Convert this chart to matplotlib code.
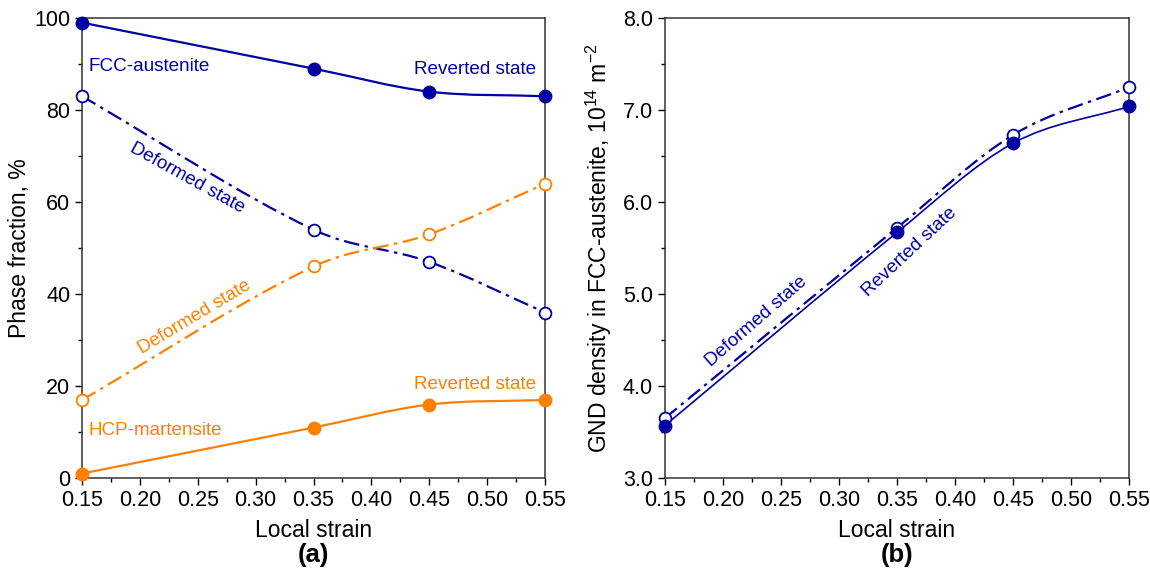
import matplotlib.pyplot as plt
from matplotlib.path import Path
from matplotlib.patches import PathPatch
from matplotlib.ticker import MultipleLocator

plt.rcParams['font.family'] = ['Liberation Sans', 'DejaVu Sans']
plt.rcParams['mathtext.fontset'] = 'custom'
plt.rcParams['mathtext.rm'] = 'Liberation Sans'

strain = [0.15, 0.35, 0.45, 0.55]

# panel (a) phase fractions, %
fcc_reverted = [99, 89, 84, 83]
fcc_deformed = [83, 54, 47, 36]
hcp_deformed = [17, 46, 53, 64]
hcp_reverted = [1, 11, 16, 17]

# panel (b) GND density, 1e14 m^-2
gnd_deformed = [3.65, 5.72, 6.73, 7.25]
gnd_reverted = [3.57, 5.67, 6.64, 7.04]

blue = '#0000a0'
orange = '#ff8000'
dashdot = (0, (7, 2.5, 1.5, 2.5))
fs_ann = 13.6
fs_tick = 15.5
fs_lab = 16.5


def smooth_line(ax, x, y, color, ls, lw=1.5):
    # cubic hermite bezier through the points (slopes from neighbours)
    n = len(x)
    m = []
    for i in range(n):
        a, b = max(i - 1, 0), min(i + 1, n - 1)
        m.append((y[b] - y[a]) / (x[b] - x[a]))
    verts = [(x[0], y[0])]
    codes = [Path.MOVETO]
    for i in range(n - 1):
        h = (x[i + 1] - x[i]) / 3
        verts += [(x[i] + h, y[i] + m[i] * h),
                  (x[i + 1] - h, y[i + 1] - m[i + 1] * h),
                  (x[i + 1], y[i + 1])]
        codes += [Path.CURVE4] * 3
    ax.add_patch(PathPatch(Path(verts, codes), fill=False, edgecolor=color,
                           linestyle=ls, linewidth=lw))


def points(ax, x, y, color, filled):
    if filled:
        ax.plot(x, y, 'o', color=color, ms=9, clip_on=False, zorder=5)
    else:
        ax.plot(x, y, 'o', mfc='white', mec=color, mew=1.3, ms=8.5,
                clip_on=False, zorder=5)


def style(ax):
    ax.set_xlim(0.15, 0.55)
    ax.xaxis.set_major_locator(MultipleLocator(0.05))
    ax.xaxis.set_minor_locator(MultipleLocator(0.025))
    ax.tick_params(which='both', direction='out', labelsize=fs_tick, top=False, right=False)
    ax.tick_params(which='major', length=5, width=1)
    ax.tick_params(which='minor', length=3, width=1)
    for s in ax.spines.values():
        s.set_linewidth(1.1)
        s.set_color('#333333')
    ax.set_xlabel('Local strain', fontsize=fs_lab, labelpad=6)


fig = plt.figure(figsize=(11.5, 5.81), dpi=100)
ax1 = fig.add_axes([0.0713, 0.177, 0.4027, 0.792])
ax2 = fig.add_axes([0.578, 0.177, 0.404, 0.792])

# panel (a)
smooth_line(ax1, strain, fcc_reverted, blue, '-', 1.6)
smooth_line(ax1, strain, fcc_deformed, blue, dashdot, 1.6)
smooth_line(ax1, strain, hcp_deformed, orange, dashdot, 1.6)
smooth_line(ax1, strain, hcp_reverted, orange, '-', 1.6)
points(ax1, strain, fcc_reverted, blue, True)
points(ax1, strain, fcc_deformed, blue, False)
points(ax1, strain, hcp_deformed, orange, False)
points(ax1, strain, hcp_reverted, orange, True)

ax1.set_ylim(0, 100)
ax1.yaxis.set_major_locator(MultipleLocator(20))
ax1.yaxis.set_minor_locator(MultipleLocator(10))
style(ax1)
ax1.set_ylabel('Phase fraction, %', fontsize=fs_lab, labelpad=2)

ax1.text(0.156, 89.5, 'FCC-austenite', color=blue, fontsize=fs_ann, va='center')
ax1.text(0.542, 88.8, 'Reverted state', color=blue, fontsize=fs_ann, va='center', ha='right')
ax1.text(0.2413, 65.3, 'Deformed state', color=blue, fontsize=fs_ann, va='center', ha='center',
         rotation=-29)
ax1.text(0.2475, 35.0, 'Deformed state', color=orange, fontsize=fs_ann, va='center', ha='center',
         rotation=31)
ax1.text(0.156, 10.4, 'HCP-martensite', color=orange, fontsize=fs_ann, va='center')
ax1.text(0.542, 20.4, 'Reverted state', color=orange, fontsize=fs_ann, va='center', ha='right')
ax1.text(0.5, -0.167, '(a)', transform=ax1.transAxes, fontsize=18.5, fontweight='bold',
         ha='center', va='center')

# panel (b)
smooth_line(ax2, strain, gnd_deformed, blue, dashdot, 1.6)
smooth_line(ax2, strain, gnd_reverted, blue, '-', 1.2)
points(ax2, strain, gnd_deformed, blue, False)
points(ax2, strain, gnd_reverted, blue, True)

ax2.set_ylim(3.0, 8.0)
ax2.yaxis.set_major_locator(MultipleLocator(1.0))
ax2.yaxis.set_minor_locator(MultipleLocator(0.5))
ax2.yaxis.set_major_formatter('{x:.1f}')
style(ax2)
ax2.set_ylabel('GND density in FCC-austenite, 10$^{14}$ m$^{-2}$', fontsize=fs_lab, labelpad=6)

ax2.text(0.2293, 4.70, 'Deformed state', color=blue, fontsize=fs_ann, va='center', ha='center',
         rotation=41)
ax2.text(0.361, 5.46, 'Reverted state', color=blue, fontsize=fs_ann, va='center', ha='center',
         rotation=43)
ax2.text(0.5, -0.167, '(b)', transform=ax2.transAxes, fontsize=18.5, fontweight='bold',
         ha='center', va='center')

fig.savefig('out.png', dpi=100)
